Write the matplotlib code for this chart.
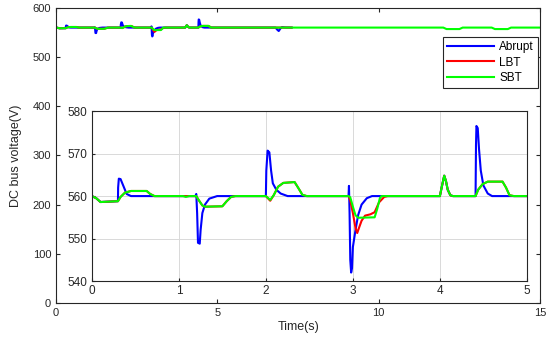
import numpy as np
import matplotlib.pyplot as plt

plt.rcParams['font.family'] = ['Liberation Sans', 'DejaVu Sans']

# Abrupt (blue) key points: time (s), voltage (V)
t_abrupt = [0, 0.05, 0.1, 0.3, 0.302, 0.31, 0.33, 0.36, 0.4, 0.45,
            1.19, 1.2, 1.21, 1.22, 1.24, 1.25, 1.27, 1.3, 1.35, 1.44,
            2.0, 2.005, 2.02, 2.04, 2.06, 2.08, 2.12, 2.17, 2.25,
            2.95, 2.955, 2.962, 2.97, 2.98, 2.99, 3.0, 3.03, 3.06, 3.1, 3.16, 3.22,
            4.0, 4.02, 4.05, 4.07, 4.09, 4.12, 4.15,
            4.41, 4.415, 4.42, 4.435, 4.45, 4.47, 4.5, 4.55, 4.6,
            6.8, 6.85, 6.9, 6.95, 7.0, 7.1, 7.3]
v_abrupt = [560, 559.5, 558.6, 558.8, 562, 564.1, 564, 562.5, 560.5, 560,
            560, 560.5, 556, 549, 548.8, 552, 556, 558, 559.4, 560,
            560, 566, 570.7, 570.3, 566, 563, 561.5, 560.6, 560,
            560, 562.4, 556, 545, 542, 543, 548, 552, 555.5, 558, 559.5, 560,
            560, 562, 564.8, 563.5, 561.5, 560.2, 560,
            560, 572, 576.5, 576, 571, 566, 562.5, 560.6, 560,
            560, 556, 553, 558, 561, 560.2, 560]

# LBT (red)
t_lbt = [0, 0.05, 0.1, 0.3, 0.33, 0.38, 0.45, 0.63, 0.67, 0.72,
         1.2, 1.23, 1.27, 1.3, 1.5, 1.55, 1.6, 1.65,
         2.0, 2.05, 2.09, 2.14, 2.2, 2.33, 2.37, 2.42, 2.47,
         2.95, 2.97, 3.0, 3.03, 3.05, 3.07, 3.1, 3.14, 3.2, 3.25, 3.3, 3.36, 3.4,
         4.0, 4.02, 4.05, 4.07, 4.09, 4.12, 4.15,
         4.41, 4.44, 4.49, 4.55, 4.72, 4.76, 4.8, 4.85, 7.3]
v_lbt = [560, 559.5, 558.6, 558.8, 559.8, 560.8, 561.2, 561.2, 560.5, 560,
         560, 559, 557.8, 557.5, 557.6, 558.8, 559.8, 560,
         560, 558.9, 560.2, 562.2, 563.1, 563.3, 562, 560.3, 560,
         560, 559, 556, 552.5, 551.3, 552.5, 554.2, 555.4, 555.7, 556.2, 558.5, 559.8, 560,
         560, 562, 564.8, 563.5, 561.5, 560.2, 560,
         560, 561.5, 562.8, 563.4, 563.4, 562, 560.2, 560, 560]

# SBT (green)
t_sbt = [0, 0.05, 0.1, 0.3, 0.33, 0.38, 0.45, 0.63, 0.67, 0.72,
         1.05, 1.08, 1.12, 1.2, 1.23, 1.27, 1.3, 1.5, 1.55, 1.6, 1.65,
         2.0, 2.05, 2.09, 2.14, 2.2, 2.33, 2.37, 2.42, 2.47,
         2.95, 2.97, 3.0, 3.03, 3.06, 3.25, 3.28, 3.31, 3.33,
         4.0, 4.02, 4.05, 4.07, 4.09, 4.12, 4.15,
         4.41, 4.44, 4.49, 4.55, 4.72, 4.76, 4.8, 4.85,
         12.0, 12.1, 12.5, 12.6, 13.5, 13.6, 14.0, 14.1, 15]
v_sbt = [560, 559.5, 558.6, 558.8, 559.8, 560.8, 561.2, 561.2, 560.5, 560,
         560, 559.8, 560, 560, 559, 557.8, 557.5, 557.6, 558.8, 559.8, 560,
         560, 559.1, 560.2, 562.2, 563.1, 563.3, 562, 560.3, 560,
         560, 559.7, 557.5, 555.5, 554.9, 555, 557, 559.5, 560,
         560, 562, 564.8, 563.5, 561.5, 560.2, 560,
         560, 561.5, 562.8, 563.4, 563.4, 562, 560.2, 560,
         560, 557, 557, 560, 560, 557, 557, 560, 560]

axis_col = '#262626'
lw = 1.5

fig = plt.figure(figsize=(5.5, 3.44), dpi=100)
ax = fig.add_axes([0.102, 0.119, 0.88, 0.858])

ax.plot(t_abrupt, v_abrupt, color='b', lw=lw, label='Abrupt')
ax.plot(t_lbt, v_lbt, color='r', lw=lw, label='LBT')
ax.plot(t_sbt, v_sbt, color='#00ff00', lw=lw, label='SBT')
ax.set_xlim(0, 15)
ax.set_ylim(0, 600)
ax.set_xticks([0, 5, 10, 15])
ax.set_yticks(range(0, 601, 100))
ax.tick_params(direction='in', top=True, right=True, labelsize=8, colors=axis_col, length=3)
for s in ax.spines.values():
    s.set_color(axis_col)
    s.set_linewidth(0.8)
ax.set_xlabel('Time(s)', fontsize=9, color=axis_col, labelpad=2)
ax.set_ylabel('DC bus voltage(V)', fontsize=9, color=axis_col, labelpad=8)

leg = ax.legend(loc='upper right', bbox_to_anchor=(0.996, 0.902), borderaxespad=0,
                fontsize=8.5, handlelength=3.9, fancybox=False, framealpha=1,
                edgecolor=axis_col, labelspacing=0.3, borderpad=0.35, handletextpad=0.5)
leg.get_frame().set_linewidth(0.8)

# zoomed inset
ins = fig.add_axes([0.167, 0.183, 0.791, 0.494])
ins.plot(t_abrupt, v_abrupt, color='b', lw=lw)
ins.plot(t_lbt, v_lbt, color='r', lw=lw)
ins.plot(t_sbt, v_sbt, color='#00ff00', lw=lw)
ins.set_xlim(0, 5)
ins.set_ylim(540, 580)
ins.set_xticks(range(0, 6))
ins.set_yticks(range(540, 581, 10))
ins.grid(True, color='#d9d9d9', lw=0.7)
ins.tick_params(direction='in', labelsize=8.5, colors=axis_col, length=2, pad=3)
for s in ins.spines.values():
    s.set_color(axis_col)
    s.set_linewidth(0.8)

fig.savefig('out.png', dpi=100)
